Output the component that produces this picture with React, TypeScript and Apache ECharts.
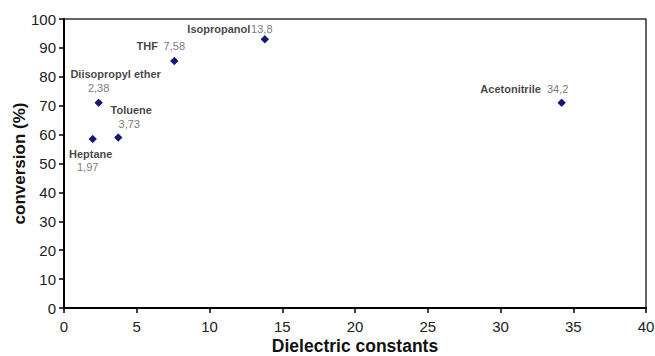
import React, { useEffect, useRef } from "react";
import * as echarts from "echarts";

const solvents = ["Heptane", "Diisopropyl ether", "Toluene", "THF", "Isopropanol", "Acetonitrile"];
const dielectric = [1.97, 2.38, 3.73, 7.58, 13.8, 34.2];
const valueLabels = ["1,97", "2,38", "3,73", "7,58", "13,8", "34,2"];
const conversion = [58.5, 71, 59, 85.5, 93, 71];

// label layout (pixel offsets from the marker centre): [name, value]
const nameOffsets: [number, number][] = [[-2, 15], [17, -29], [13, -27], [-27, -15], [-46, -10], [-51, -14]];
const valueOffsets: [number, number][] = [[-5, 28], [0, -15], [11, -13], [0, -15], [-3, -10], [-4, -14]];

const FONT = "'Liberation Sans', Arial, sans-serif";

export default function App() {
  const ref = useRef<HTMLDivElement>(null);
  useEffect(() => {
    if (!ref.current) return;
    const chart = echarts.init(ref.current, null, { renderer: "svg" });
    const pts = dielectric.map((x, i) => [x, conversion[i]]);
    chart.setOption({
      animation: false,
      backgroundColor: "#ffffff",
      textStyle: { fontFamily: FONT },
      grid: {
        left: 64,
        right: 9,
        top: 19,
        bottom: 48,
        show: true,
        borderColor: "#333",
        borderWidth: 1.5,
        containLabel: false,
        outerBoundsMode: "none",
      },
      xAxis: {
        type: "value",
        min: 0,
        max: 40,
        interval: 5,
        name: "Dielectric constants",
        nameLocation: "middle",
        nameGap: 29,
        nameMoveOverlap: false,
        nameTextStyle: { fontSize: 17.5, lineHeight: 17, fontWeight: "bold", color: "#111", fontFamily: FONT },
        axisLine: { show: true, lineStyle: { color: "#000", width: 2 } },
        axisTick: { show: true, length: 5, lineStyle: { color: "#000", width: 1.5 } },
        axisLabel: { fontSize: 15, color: "#222", margin: 11, fontFamily: FONT },
        splitLine: { show: false },
      },
      yAxis: {
        type: "value",
        min: 0,
        max: 100,
        interval: 10,
        name: "conversion (%)",
        nameLocation: "middle",
        nameGap: 36,
        nameMoveOverlap: false,
        nameRotate: 90,
        nameTextStyle: { fontSize: 17, fontWeight: "bold", color: "#111", fontFamily: FONT },
        axisLine: { show: true, lineStyle: { color: "#000", width: 2 } },
        axisTick: { show: true, length: 5, lineStyle: { color: "#000", width: 1.5 } },
        axisLabel: { fontSize: 15, color: "#222", margin: 8, fontFamily: FONT },
        splitLine: { show: false },
      },
      series: [
        {
          type: "scatter",
          symbol: "diamond",
          symbolSize: 8,
          itemStyle: { color: "#0b0b72" },
          data: pts.map((p, i) => ({
            value: p,
            label: {
              show: true,
              position: "inside",
              offset: nameOffsets[i],
              formatter: solvents[i],
              fontSize: 11,
              fontWeight: "bold",
              color: "#111",
              fontFamily: FONT,
            },
          })),
        },
        {
          type: "scatter",
          symbol: "diamond",
          symbolSize: 8,
          itemStyle: { color: "#0b0b72" },
          data: pts.map((p, i) => ({
            value: p,
            label: {
              show: true,
              position: "inside",
              offset: valueOffsets[i],
              formatter: valueLabels[i],
              fontSize: 11,
              color: "#555",
              fontFamily: FONT,
            },
          })),
        },
      ],
    });
    return () => chart.dispose();
  }, []);
  return (
    <div
      ref={ref}
      style={{ position: "fixed", left: 0, top: 0, width: 655, height: 356, background: "#fff" }}
    />
  );
}
